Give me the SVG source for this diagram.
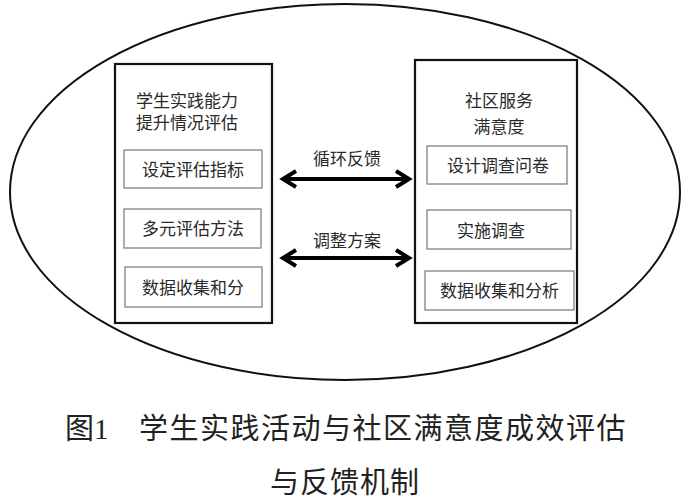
<svg xmlns="http://www.w3.org/2000/svg" width="688" height="498" viewBox="0 0 688 498">
<style>
.t{font-family:"Liberation Serif","Noto Sans CJK SC",serif;font-size:17px;fill:#2a2a2a;text-anchor:middle}
.cap{font-family:"Liberation Serif","Noto Sans CJK SC",serif;font-size:29px;fill:#222}
.outer{fill:#fff;stroke:#111;stroke-width:2.2}
.inner{fill:#fff;stroke:#777;stroke-width:1.2}
.arr{stroke:#000;stroke-width:4;fill:none}
</style>
<defs>
<marker id="ah" markerUnits="userSpaceOnUse" viewBox="0 0 20 20" refX="16" refY="10" markerWidth="20" markerHeight="20" orient="auto-start-reverse">
<path d="M3,2 L16,10 L3,18" fill="none" stroke="#000" stroke-width="4"/>
</marker>
</defs>
<rect width="688" height="498" fill="#fff"/>
<ellipse id="frame" cx="345" cy="192" rx="335" ry="188" fill="#fff" stroke="#111" stroke-width="2"/>
<g id="left">
<rect class="outer" x="115" y="64" width="157" height="259"/>
<text class="t" x="187" y="106.5">学生实践能力</text>
<text class="t" x="187" y="128.5">提升情况评估</text>
</g>
<g id="l1"><rect class="inner" x="124" y="150" width="138" height="38"/><text class="t" x="193" y="175.5">设定评估指标</text></g>
<g id="l2"><rect class="inner" x="124" y="209" width="137" height="39"/><text class="t" x="193" y="235">多元评估方法</text></g>
<g id="l3"><rect class="inner" x="125" y="267" width="137" height="40"/><text class="t" x="193" y="293.5">数据收集和分</text></g>
<g id="right">
<rect class="outer" x="415" y="60" width="162" height="263"/>
<text class="t" x="499" y="106.5">社区服务</text>
<text class="t" x="499" y="132.5">满意度</text>
</g>
<g id="r1"><rect class="inner" x="427" y="146" width="140" height="38"/><text class="t" x="498" y="171.5">设计调查问卷</text></g>
<g id="r2"><rect class="inner" x="427" y="210" width="144" height="39"/><text class="t" x="491" y="236.5">实施调查</text></g>
<g id="r3"><rect class="inner" x="425" y="271" width="149" height="39"/><text class="t" x="499.5" y="296.5">数据收集和分析</text></g>
<g id="connectors">
<line class="arr" x1="283" y1="179" x2="409" y2="179" marker-start="url(#ah)" marker-end="url(#ah)"/>
<text class="t" x="347" y="164.5">循环反馈</text>
<line class="arr" x1="283" y1="258" x2="409" y2="258" marker-start="url(#ah)" marker-end="url(#ah)"/>
<text class="t" x="347" y="246.5">调整方案</text>
</g>
<g id="caption">
<text class="cap" x="65" y="439">图1</text>
<text class="cap" x="139" y="439" letter-spacing="1.5">学生实践活动与社区满意度成效评估</text>
<text class="cap" x="270" y="493" letter-spacing="1">与反馈机制</text>
</g>
</svg>
